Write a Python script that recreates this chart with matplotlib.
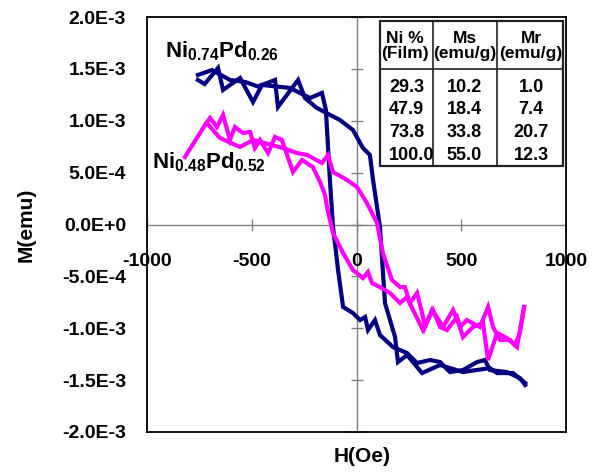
import matplotlib
matplotlib.use("Agg")
import matplotlib.pyplot as plt
from matplotlib.transforms import ScaledTranslation
from matplotlib.lines import Line2D

plt.rcParams['font.family'] = ['Liberation Sans', 'DejaVu Sans']
plt.rcParams['font.weight'] = 'bold'
plt.rcParams['mathtext.fontset'] = 'custom'
plt.rcParams['mathtext.rm'] = 'Liberation Sans:bold'
plt.rcParams['mathtext.bf'] = 'Liberation Sans:bold'
plt.rcParams['mathtext.it'] = 'Liberation Sans:bold'

# ---- data (H in Oe, M in 1e-3 emu) ----
b1_H = [-757, -725, -661, -637, -556, -494, -451, -317, -222, -165, -146, -127, -112, -88, -64,
        -17, 17, 41, 55, 88, 112, 174, 241, 289, 351, 399, 446, 508, 575, 613, 637, 718, 780, 805]
b1_M = [1.393, 1.354, 1.509, 1.297, 1.412, 1.181, 1.345, 1.316, 1.219, 1.268, 1.104, 0.429, -0.024,
        -0.439, -0.795, -0.853, -0.921, -0.892, -1.017, -0.921, -1.065, -1.181, -1.239, -1.335,
        -1.306, -1.326, -1.422, -1.403, -1.326, -1.306, -1.403, -1.422, -1.480, -1.547]

b2_H = [-757, -690, -604, -532, -470, -389, -375, -279, -246, -189, -79, -17, 31, 64, 79, 112, 136,
        184, 198, 241, 313, 399, 508, 637, 671, 747, 805]
b2_M = [1.441, 1.489, 1.393, 1.374, 1.330, 1.393, 1.133, 1.393, 1.219, 1.123, 1.007, 0.911, 0.737,
        0.670, 0.429, -0.024, -0.757, -1.085, -1.326, -1.258, -1.432, -1.354, -1.422, -1.384,
        -1.432, -1.432, -1.528]

p1_H = [-819, -723, -699, -666, -637, -604, -580, -542, -508, -485, -461, -422, -389, -356, -303,
        -260, -208, -174, -150, -141, -112, -64, -17, 31, 55, 74, 112, 160, 208, 241, 270, 317,
        365, 399, 432, 480, 508, 556, 604, 628, 671, 718, 766, 800]
p1_M = [0.651, 0.959, 1.027, 0.940, 1.056, 0.815, 0.940, 0.882, 0.892, 0.737, 0.815, 0.689, 0.844,
        0.815, 0.506, 0.622, 0.554, 0.410, 0.284, 0.169, -0.082, -0.275, -0.439, -0.516, -0.458,
        -0.564, -0.603, -0.660, -0.757, -0.699, -0.824, -1.017, -0.824, -0.988, -1.017, -0.892,
        -1.085, -0.988, -0.950, -1.306, -1.046, -1.094, -1.181, -0.795]

p2_H = [-714, -652, -556, -494, -351, -284, -236, -165, -136, -112, -45, 2, 50, 98, 126, 169, 208,
        231, 255, 289, 313, 327, 360, 384, 413, 461, 494, 527, 589, 628, 652, 685, 733, 756, 780, 800]
p2_M = [0.978, 0.834, 0.747, 0.815, 0.737, 0.689, 0.670, 0.593, 0.670, 0.506, 0.429, 0.362, 0.207,
        0.014, -0.275, -0.535, -0.603, -0.603, -0.757, -0.660, -0.853, -0.988, -0.824, -0.892,
        -0.988, -0.824, -0.988, -0.921, -0.988, -0.795, -0.988, -1.113, -1.113, -1.162, -1.046, -0.795]

x_ticks = [-1000, -500, 0, 500, 1000]
x_tick_labels = ["-1000", "-500", "0", "500", "1000"]
y_ticks = [2.0, 1.5, 1.0, 0.5, 0.0, -0.5, -1.0, -1.5, -2.0]
y_tick_labels = ["2.0E-3", "1.5E-3", "1.0E-3", "5.0E-4", "0.0E+0", "-5.0E-4", "-1.0E-3",
                 "-1.5E-3", "-2.0E-3"]

label_blue = r"$\mathrm{Ni_{0.74}Pd_{0.26}}$"
label_pink = r"$\mathrm{Ni_{0.48}Pd_{0.52}}$"

table_header = ["Ni %\n(Film)", "Ms\n(emu/g)", "Mr\n(emu/g)"]
table_ni = ["29.3", "47.9", "73.8", "100.0"]
table_ms = ["10.2", "18.4", "33.8", "55.0"]
table_mr = ["1.0", "7.4", "20.7", "12.3"]

NAVY = "#000080"
MAGENTA = "#FF00FF"

W, H = 598, 472
fig = plt.figure(figsize=(W / 100, H / 100), dpi=100)
ax = fig.add_axes([147 / W, 1 - 432 / H, (566 - 147) / W, (432 - 17) / H])
ax.set_xlim(-1000, 1000)
ax.set_ylim(-2.0, 2.0)

for s in ax.spines.values():
    s.set_color("#000000")
    s.set_linewidth(1.3)

# axes through the origin
ax.axhline(0, color="#808080", lw=1, zorder=1)
ax.axvline(0, color="#808080", lw=1, zorder=1)
ax.plot(x_ticks, [0] * len(x_ticks), ls="none", marker="|", ms=8, mew=1, color="#808080", zorder=1)
ax.plot([0] * len(y_ticks), y_ticks, ls="none", marker="_", ms=9, mew=1, color="#808080", zorder=1)

ax.set_yticks(y_ticks)
ax.set_yticklabels(y_tick_labels, fontsize=14, fontweight="bold")
ax.tick_params(axis="y", length=0, pad=15)
ax.set_xticks([])

off = ScaledTranslation(0, -37 / 100, fig.dpi_scale_trans)
for xv, lab in zip(x_ticks, x_tick_labels):
    ax.text(xv, 0, lab, transform=ax.transData + off, ha="center", va="center",
            fontsize=14, fontweight="bold")

LW = 3.0
ax.plot(b1_H, b1_M, color=NAVY, lw=LW, solid_joinstyle="miter", zorder=3)
ax.plot(b2_H, b2_M, color=NAVY, lw=LW, solid_joinstyle="miter", zorder=3)
ax.plot(p1_H, p1_M, color=MAGENTA, lw=LW, solid_joinstyle="miter", zorder=4)
ax.plot(p2_H, p2_M, color=MAGENTA, lw=LW, solid_joinstyle="miter", zorder=4)

fig.text(165 / W, 1 - 57 / H, label_blue, fontsize=16, ha="left", va="baseline")
fig.text(152 / W, 1 - 168 / H, label_pink, fontsize=16, ha="left", va="baseline")

fig.text(26 / W, 1 - 225 / H, "M(emu)", rotation=90, ha="center", va="center",
         fontsize=15, fontweight="bold")
fig.text(362 / W, 1 - 456 / H, "H(Oe)", ha="center", va="center", fontsize=15, fontweight="bold")

# ---- inset table ----
def fx(px):
    return px / W

def fy(py):
    return 1 - py / H

cols = [379.5, 432.5, 497, 563]
top, hdr, bot = 21, 69, 166
fig.patches.append(plt.Rectangle((fx(cols[0]), fy(bot)), fx(cols[3]) - fx(cols[0]),
                                 fy(top) - fy(bot), transform=fig.transFigure,
                                 facecolor="white", edgecolor="#222222", lw=1.6, zorder=5))
for c in cols[1:3]:
    fig.lines.append(Line2D([fx(c), fx(c)], [fy(top), fy(bot)], transform=fig.transFigure,
                            color="#222222", lw=1.2, zorder=6))
fig.lines.append(Line2D([fx(cols[0]), fx(cols[3])], [fy(hdr), fy(hdr)], transform=fig.transFigure,
                        color="#222222", lw=1.2, zorder=6))

hdr_x = [405, 465, 531]
for xv, t in zip(hdr_x, table_header):
    fig.text(fx(xv), fy(46), t, ha="center", va="center", fontsize=12.5, fontweight="bold",
             linespacing=1.0, zorder=7)

row_y = [88, 110, 132.5, 155]
for yv, a, b, c in zip(row_y, table_ni, table_ms, table_mr):
    fig.text(fx(389), fy(yv), a, ha="left", va="center", fontsize=13, fontweight="bold", zorder=7)
    fig.text(fx(464), fy(yv), b, ha="center", va="center", fontsize=13, fontweight="bold", zorder=7)
    fig.text(fx(531), fy(yv), c, ha="center", va="center", fontsize=13, fontweight="bold", zorder=7)

fig.savefig("out.png", dpi=100)
